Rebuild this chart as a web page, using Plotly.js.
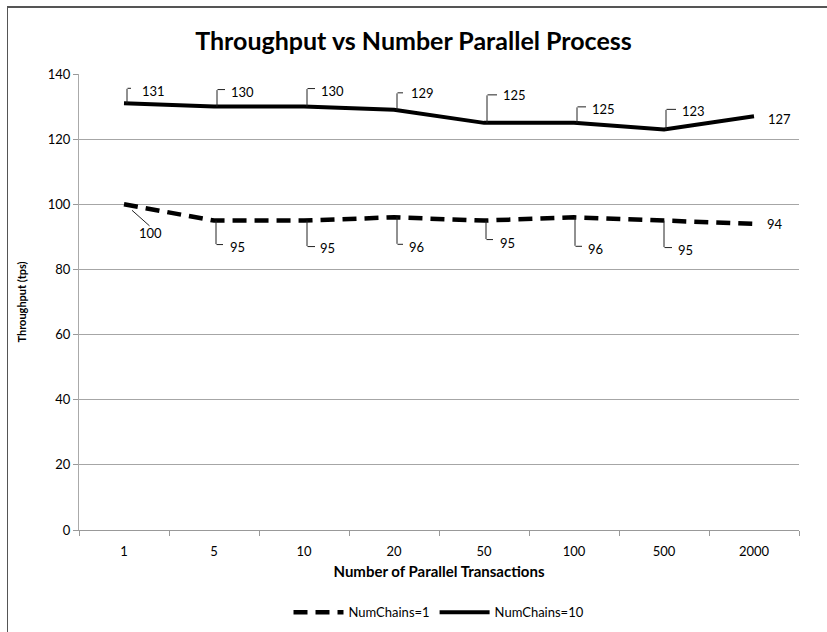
<!DOCTYPE html>
<html><head><meta charset="utf-8">
<script src="https://cdn.plot.ly/plotly-3.0.1.min.js"></script>
<style>
html,body{margin:0;padding:0;background:#fff;}
#chart{width:827px;height:632px;position:absolute;left:0;top:0;}
#frame{position:absolute;left:7px;top:6px;width:840px;height:640px;border-top:2px solid #555;border-left:1px solid #555;pointer-events:none;}
</style></head>
<body>
<div id="chart"></div>
<div id="frame"></div>
<script>
var categories = ['1','5','10','20','50','100','500','2000'];
var chains1 = [100,95,95,96,95,96,95,94];
var chains10 = [131,130,130,129,125,125,123,127];
var seriesNames = ['NumChains=1','NumChains=10'];

// label layout (pixels, relative to the data point): [leader x offset, vertical leader length (neg = up), horizontal leader length, text dx, text dy]
var lab10 = [[3,-15,4,29,-12],[3,-17,8,28,-15],[3,-18,8,28,-16],[3,-17,6,28,-17],[3,-28,10,30,-28],[3,-16,9,29,-14],[2,-20,10,29,-18],[0,0,0,25,3]];
var lab1 = [[0,0,0,26,29],[2,24,7,23,26],[3,26,8,23,27],[3,27,6,22,30],[2,19,7,23,22],[1,29,7,21,32],[0,27,8,21,29],[0,0,0,21,0]];

var font = 'Lato, "Open Sans", sans-serif';
var traces = [
  {x:categories, y:chains1, name:seriesNames[0], type:'scatter', mode:'lines',
   line:{color:'#000', width:4.5, dash:'14px,8px'}},
  {x:categories, y:chains10, name:seriesNames[1], type:'scatter', mode:'lines',
   line:{color:'#000', width:4}}
];
var ann = [];
var lc = '#222';
function seg(i, v, hx, hy, ax, ay){
  // arrow-only annotation: head at point shifted by (hx, hy screen px), tail at head + (ax, ay)
  ann.push({x:i, y:v, text:'', showarrow:true, arrowhead:0, arrowwidth:1, arrowcolor:lc,
    standoff:0, startstandoff:0, borderpad:0, font:{size:1},
    xshift:hx, yshift:-hy, ax:ax, ay:ay});
}
function addLabels(vals, labs){
  vals.forEach(function(v,i){
    var L = labs[i];
    if (L[1] !== 0) {
      seg(i, v, L[0], 0, 0, L[1]);          // vertical part
      seg(i, v, L[0]+L[2], L[1], -L[2], 0); // horizontal part
    }
    ann.push({x:i, y:v, text:String(v), showarrow:false, xshift:L[3], yshift:-L[4],
      font:{family:font, size:13, color:'#000'}});
  });
}
addLabels(chains10, lab10);
addLabels(chains1, lab1);
// straight leader for the first NumChains=1 label
seg(0, chains1[0], 8, 6, 18, 16);

var layout = {
  width:827, height:632,
  margin:{l:79, r:28, t:74, b:102, autoexpand:false},
  paper_bgcolor:'#fff', plot_bgcolor:'#fff',
  title:{text:'<b>Throughput vs Number Parallel Process</b>', font:{family:font, size:25, color:'#000'}, x:0.5, xanchor:'center', y:0.935, yanchor:'middle'},
  showlegend:true,
  legend:{orientation:'h', x:0.5, xanchor:'center', yref:'container', y:0.031, yanchor:'middle', font:{family:font, size:13, color:'#000'}, itemwidth:50, traceorder:'normal'},
  xaxis:{type:'category', range:[-0.5,7.5], autorange:false, automargin:false, tickson:'boundaries', ticks:'outside', ticklen:5, tickcolor:'#999',
    showline:true, linecolor:'#999', linewidth:1, showgrid:false, zeroline:false, ticklabelstandoff:9,
    tickfont:{family:font, size:13, color:'#000'},
    title:{text:'<b>Number of Parallel Transactions</b>', font:{family:font, size:15, color:'#000'}, standoff:8}},
  yaxis:{range:[0,140], autorange:false, automargin:false, dtick:20, ticks:'outside', ticklen:5, tickcolor:'#999',
    showline:true, linecolor:'#aaa', linewidth:1, showgrid:true, gridcolor:'#a6a6a6', gridwidth:1, zeroline:false,
    tickfont:{family:font, size:13, color:'#000'},
    title:{text:'<b>Throughput (tps)</b>', font:{family:font, size:11, color:'#000'}, standoff:18}},
  annotations:ann
};
Plotly.newPlot('chart', traces, layout, {displayModeBar:false, staticPlot:true});
</script>
</body></html>
